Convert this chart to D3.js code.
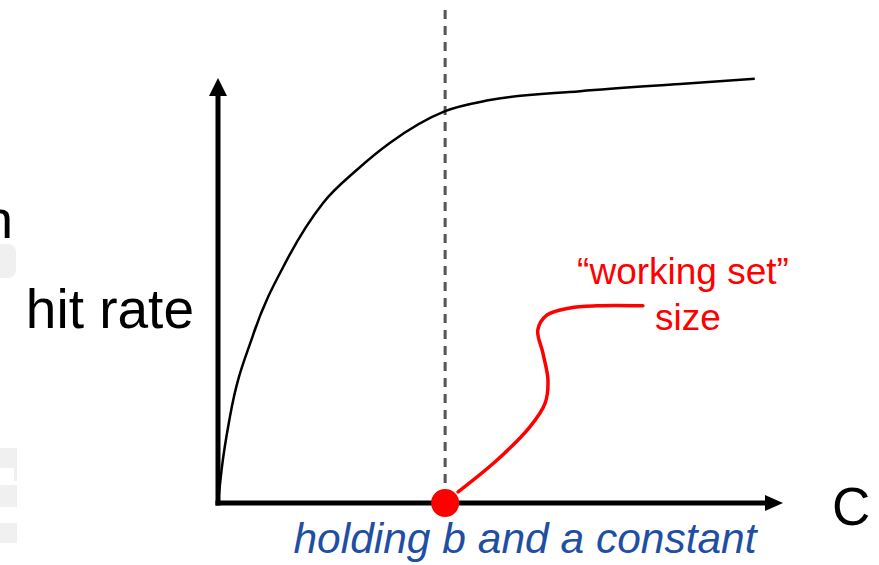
<!DOCTYPE html>
<html>
<head>
<meta charset="utf-8">
<script src="https://cdn.jsdelivr.net/npm/d3@7"></script>
<style>
  body { margin: 0; background: #fff; }
  svg { display: block; }
</style>
</head>
<body>
<div class="hit-rate"></div>
<script>
// hit rate vs cache size C (both in % of the axis length)
const cacheSize = [0, 0.7, 2.1, 6.2, 12.2, 18.6, 24.6, 30.4, 40.2, 48.1, 64.1, 81.8, 95.0];
const hitRate   = [0, 8.5, 20.2, 39.5, 57.2, 70.6, 78.4, 84.7, 92.2, 94.8, 96.9, 98.6, 99.8];

// "working set" size marker on the C axis
const workingSet = 40.2;

// red annotation line from the marker to its label
const noteC    = [42.5, 49.4, 55.2, 57.9, 58.4, 57.5, 56.6, 58.2, 62.3, 67.1, 75.2];
const noteRate = [2.6, 10.1, 17.9, 23.5, 28.9, 35.3, 40.7, 44.2, 45.9, 46.4, 46.4];

const labels = {
  y: "hit rate",
  x: "C",
  note: ["\u201Cworking set\u201D", "size"],
  caption: "holding b and a constant"
};

const width = 879, height = 565;

const svg = d3.select(".hit-rate")
  .append("svg")
    .attr("width", width)
    .attr("height", height);

// scales: origin at (218, 503)
const x = d3.scaleLinear().domain([0, 100]).range([218, 783]);
const y = d3.scaleLinear().domain([0, 100]).range([503, 78]);

// leftover bits of the neighbouring slide on the left edge
const edge = svg.append("g").attr("fill", "#f0f0f0");
edge.append("rect").attr("x", -12).attr("y", 244).attr("width", 28).attr("height", 34).attr("rx", 8);
edge.append("rect").attr("x", -2).attr("y", 448).attr("width", 19).attr("height", 20);
edge.append("rect").attr("x", 14).attr("y", 466).attr("width", 3).attr("height", 15);
edge.append("rect").attr("x", -2).attr("y", 485).attr("width", 19).attr("height", 22);
edge.append("rect").attr("x", -2).attr("y", 523).attr("width", 19).attr("height", 20);
svg.append("text")
  .attr("x", -17).attr("y", 238)
  .attr("font-family", "Liberation Sans, Arial, sans-serif")
  .attr("font-size", "54px")
  .attr("fill", "black")
  .text("n");

// dashed line at the working set size
svg.append("line")
  .attr("x1", x(workingSet)).attr("x2", x(workingSet))
  .attr("y1", 10).attr("y2", y(0) - 12)
  .attr("stroke", "#555")
  .attr("stroke-width", 3)
  .attr("stroke-dasharray", "9,7");

// axes with arrows
svg.append("line")
  .attr("x1", x(0)).attr("x2", x(0))
  .attr("y1", y(0) + 2.5).attr("y2", y(100) + 14)
  .attr("stroke", "black").attr("stroke-width", 5);
svg.append("path")
  .attr("d", `M${x(0)},${y(100)} L${x(0) - 9},${y(100) + 18} L${x(0) + 9},${y(100) + 18} Z`)
  .attr("fill", "black");
svg.append("line")
  .attr("x1", x(0) - 2.5).attr("x2", x(100) - 14)
  .attr("y1", y(0)).attr("y2", y(0))
  .attr("stroke", "black").attr("stroke-width", 5);
svg.append("path")
  .attr("d", `M${x(100)},${y(0)} L${x(100) - 18},${y(0) - 8} L${x(100) - 18},${y(0) + 8} Z`)
  .attr("fill", "black");

// hit rate curve
const curve = d3.line()
  .x(d => x(d[0]))
  .y(d => y(d[1]))
  .curve(d3.curveMonotoneX);

svg.append("path")
  .datum(d3.zip(cacheSize, hitRate))
  .attr("d", curve)
  .attr("fill", "none")
  .attr("stroke", "black")
  .attr("stroke-width", 2.5);

// annotation
const note = d3.line()
  .x(d => x(d[0]))
  .y(d => y(d[1]))
  .curve(d3.curveCatmullRom.alpha(0.5));

svg.append("path")
  .datum(d3.zip(noteC, noteRate))
  .attr("d", note)
  .attr("fill", "none")
  .attr("stroke", "#ff0000")
  .attr("stroke-width", 3.5)
  .attr("stroke-linecap", "round");

svg.append("circle")
  .attr("cx", x(workingSet))
  .attr("cy", y(0))
  .attr("r", 14)
  .attr("fill", "#ff0000");

svg.selectAll(".note")
  .data(labels.note)
  .join("text")
    .attr("class", "note")
    .attr("x", (d, i) => i == 0 ? 683 : 688)
    .attr("y", (d, i) => 284 + i * 46)
    .attr("text-anchor", "middle")
    .attr("font-family", "Liberation Sans, Arial, sans-serif")
    .attr("font-size", "37px")
    .attr("fill", "#ff0000")
    .text(d => d);

// axis labels
svg.append("text")
  .attr("x", 194).attr("y", 328)
  .attr("text-anchor", "end")
  .attr("font-family", "Liberation Sans, Arial, sans-serif")
  .attr("font-size", "55px")
  .attr("fill", "black")
  .text(labels.y);

svg.append("text")
  .attr("x", 832).attr("y", 525)
  .attr("font-family", "Liberation Sans, Arial, sans-serif")
  .attr("font-size", "53px")
  .attr("fill", "black")
  .text(labels.x);

svg.append("text")
  .attr("x", 525).attr("y", 553)
  .attr("text-anchor", "middle")
  .attr("font-family", "Liberation Sans, Arial, sans-serif")
  .attr("font-style", "italic")
  .attr("font-size", "42.5px")
  .attr("fill", "#1f4fa3")
  .text(labels.caption);
</script>
</body>
</html>
